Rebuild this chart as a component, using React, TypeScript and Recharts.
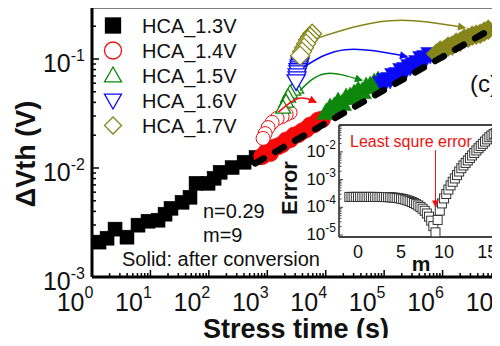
import React from "react";
import { ComposedChart, Scatter, Line, XAxis, YAxis, ReferenceLine, CartesianGrid } from "recharts";

const FONT = '"Liberation Sans", Arial, Helvetica, sans-serif';

const RED = "#f50a0a";
const GREEN = "#0d870d";
const BLUE = "#0a0af5";
const OLIVE = "#85851a";

// stress time t (s) vs dVth (V)
const hca13 = [
  { t: 1.32, v: 0.00209 }, { t: 1.81, v: 0.00227 }, { t: 2.48, v: 0.00275 }, { t: 3.97, v: 0.00232 },
  { t: 6.13, v: 0.00299 }, { t: 9.1, v: 0.00325 }, { t: 13.5, v: 0.00332 }, { t: 17.8, v: 0.00377 },
  { t: 22.5, v: 0.00427 }, { t: 34.8, v: 0.00485 }, { t: 47.6, v: 0.00539 }, { t: 60.4, v: 0.00724 },
  { t: 96.9, v: 0.00724 }, { t: 123, v: 0.00805 }, { t: 156, v: 0.00914 }, { t: 250, v: 0.0101 },
  { t: 401, v: 0.0113 }, { t: 643, v: 0.0125 },
];

// solid = after conversion
const hca14Solid = [
  { t: 815, v: 0.01279 }, { t: 953, v: 0.01393 }, { t: 1117, v: 0.01363 }, { t: 1307, v: 0.01545 },
  { t: 1531, v: 0.01579 }, { t: 1792, v: 0.01647 }, { t: 2098, v: 0.01792 }, { t: 2455, v: 0.0183 },
  { t: 2877, v: 0.01991 }, { t: 3366, v: 0.02033 }, { t: 3945, v: 0.02167 }, { t: 4615, v: 0.0226 },
  { t: 5405, v: 0.02458 }, { t: 6324, v: 0.0251 }, { t: 7413, v: 0.02731 }, { t: 8670, v: 0.02789 },
];
const hca15Solid = [
  { t: 10160, v: 0.03233 }, { t: 11890, v: 0.03592 }, { t: 13930, v: 0.03668 }, { t: 16300, v: 0.04076 },
  { t: 19100, v: 0.03908 }, { t: 22340, v: 0.04433 }, { t: 26170, v: 0.04529 }, { t: 30620, v: 0.04824 },
  { t: 35880, v: 0.05139 }, { t: 41980, v: 0.05031 }, { t: 49200, v: 0.05591 }, { t: 57540, v: 0.05709 },
  { t: 67450, v: 0.06082 }, { t: 78890, v: 0.06343 },
];
const hca16Solid = [
  { t: 92470, v: 0.05955 }, { t: 108200, v: 0.06343 }, { t: 126700, v: 0.06477 }, { t: 148300, v: 0.07047 },
  { t: 173800, v: 0.07198 }, { t: 203200, v: 0.07832 }, { t: 238200, v: 0.07998 }, { t: 278600, v: 0.08518 },
  { t: 326600, v: 0.08885 }, { t: 382000, v: 0.09267 }, { t: 447700, v: 0.1009 }, { t: 523600, v: 0.103 },
  { t: 613800, v: 0.1097 },
];
const hca17Solid = [
  { t: 776600, v: 0.112 }, { t: 909500, v: 0.1194 }, { t: 1065000, v: 0.1219 }, { t: 1247000, v: 0.1299 },
  { t: 1459000, v: 0.1327 }, { t: 1710000, v: 0.1413 }, { t: 2000000, v: 0.1443 }, { t: 2344000, v: 0.1537 },
  { t: 2742000, v: 0.157 }, { t: 3213000, v: 0.1637 }, { t: 3758000, v: 0.1672 }, { t: 4406000, v: 0.1708 },
  { t: 5152000, v: 0.1781 }, { t: 6039000, v: 0.1858 },
];

// hollow = before conversion
const hca14Open = [
  { t: 2455, v: 0.0323 }, { t: 2098, v: 0.031 }, { t: 1792, v: 0.0297 }, { t: 1472, v: 0.0285 },
  { t: 1209, v: 0.0262 }, { t: 1032, v: 0.0235 }, { t: 917, v: 0.0207 }, { t: 847, v: 0.0187 },
];
const hca15Open = [
  { t: 3112, v: 0.0547 }, { t: 2766, v: 0.0525 }, { t: 2455, v: 0.0493 }, { t: 2270, v: 0.0453 },
  { t: 2099, v: 0.0407 }, { t: 1866, v: 0.0359 },
];
const hca16Open = [
  { t: 3645, v: 0.0926 }, { t: 3645, v: 0.0888 }, { t: 3507, v: 0.0851 }, { t: 3507, v: 0.0817 },
  { t: 3365, v: 0.0784 }, { t: 3365, v: 0.0751 }, { t: 3236, v: 0.0705 }, { t: 3236, v: 0.0662 },
  { t: 3112, v: 0.0621 },
];
const hca17Open = [
  { t: 5847, v: 0.1707 }, { t: 5405, v: 0.1603 }, { t: 5000, v: 0.1503 }, { t: 4615, v: 0.1383 },
  { t: 4266, v: 0.1271 }, { t: 3945, v: 0.1169 }, { t: 3645, v: 0.1074 },
];

// power-law fit, n = 0.29
const fitLine = [{ t: 620, v: 0.01104 }, { t: 8600000, v: 0.202 }];

const redArrow = [{ t: 1531, v: 0.0324 }, { t: 3366, v: 0.0435 }, { t: 6850, v: 0.0399 }];
const greenArrow = [{ t: 3645, v: 0.0514 }, { t: 9770, v: 0.0734 }, { t: 42000, v: 0.0634 }];
const blueArrow = [{ t: 4104, v: 0.0834 }, { t: 21500, v: 0.1219 }, { t: 247700, v: 0.1052 }];
const oliveArrow = [{ t: 6850, v: 0.1538 }, { t: 126700, v: 0.2244 }, { t: 2440000, v: 0.1935 }];

// inset: least square error vs m
const errM = [
  -1, -0.75, -0.5, -0.25, 0, 0.25, 0.5, 0.75, 1, 1.25, 1.5, 1.75, 2, 2.25, 2.5, 2.75, 3, 3.25, 3.5, 3.75,
  4, 4.25, 4.5, 4.75, 5, 5.25, 5.5, 5.75, 6, 6.25, 6.5, 6.75, 7, 7.25, 7.5, 7.75, 8, 8.25, 8.5, 8.75, 9,
  9.25, 9.5, 9.75, 10, 10.25, 10.5, 10.75, 11, 11.25, 11.5, 11.75, 12, 12.25, 12.5, 12.75, 13, 13.25,
  13.5, 13.75, 14, 14.25, 14.5, 14.75, 15, 15.25, 15.5, 15.75, 16,
];
const errVal = [
  2.37e-4, 2.37e-4, 2.37e-4, 2.37e-4, 2.37e-4, 2.37e-4, 2.37e-4, 2.37e-4, 2.37e-4, 2.37e-4, 2.37e-4,
  2.37e-4, 2.36e-4, 2.36e-4, 2.36e-4, 2.35e-4, 2.35e-4, 2.34e-4, 2.33e-4, 2.3e-4, 2.27e-4, 2.23e-4,
  2.18e-4, 2.12e-4, 2.05e-4, 1.97e-4, 1.88e-4, 1.78e-4, 1.67e-4, 1.55e-4, 1.43e-4, 1.3e-4, 1.17e-4,
  1.03e-4, 8.9e-5, 7.5e-5, 6.0e-5, 4.6e-5, 3.3e-5, 2.1e-5, 1.25e-5, 3.5e-5, 7.6e-5, 1.38e-4, 2.09e-4,
  3.02e-4, 4.37e-4, 6.17e-4, 8.32e-4, 1.1e-3, 1.45e-3, 1.95e-3, 2.57e-3, 3.24e-3, 3.98e-3, 4.9e-3,
  6.03e-3, 7.41e-3, 9.12e-3, 1.12e-2, 1.35e-2, 1.62e-2, 1.95e-2, 2.34e-2, 2.82e-2, 3.39e-2, 3.89e-2,
  4.37e-2, 4.79e-2,
];
const errData = errM.map((m, i) => ({ m, e: errVal[i] }));
const lsqArrow = [{ m: 9, e: 0.0115 }, { m: 9, e: 1.05e-4 }];

const legendItems = [
  { label: "HCA_1.3V", kind: "square", color: "#000", filled: true },
  { label: "HCA_1.4V", kind: "circle", color: RED, filled: false },
  { label: "HCA_1.5V", kind: "triangle", color: GREEN, filled: false },
  { label: "HCA_1.6V", kind: "down", color: BLUE, filled: false },
  { label: "HCA_1.7V", kind: "diamond", color: OLIVE, filled: false },
];

const minorMult = [2, 3, 4, 5, 6, 7, 8, 9];
const xDecades = [1, 10, 100, 1e3, 1e4, 1e5, 1e6];
const xTicks = [...xDecades.flatMap((d) => [d, ...minorMult.map((k) => d * k)]), 1e7];
const yDecades = [1e-3, 1e-2, 1e-1];
const yTicks = yDecades.flatMap((d) => [d, ...minorMult.map((k) => d * k)]).filter((v) => v < 0.29);
const insetDecades = [1e-5, 1e-4, 1e-3, 1e-2];
const insetYTicks = insetDecades.flatMap((d) => [d, ...minorMult.map((k) => d * k)]);
const insetXTicks = [0, 5, 10, 15];

const isMajor = (v: number) => {
  const lg = Math.log10(v);
  return Math.abs(lg - Math.round(lg)) < 1e-6;
};

function Mark({ kind, cx, cy, size, fill, stroke, sw = 1.3 }: any) {
  const h = size / 2;
  if (kind === "circle") return <circle cx={cx} cy={cy} r={h} fill={fill} stroke={stroke} strokeWidth={sw} />;
  if (kind === "square")
    return <rect x={cx - h} y={cy - h} width={size} height={size} fill={fill} stroke={stroke} strokeWidth={sw} />;
  let d = "";
  if (kind === "triangle") d = `M${cx},${cy - h} L${cx + h},${cy + h * 0.75} L${cx - h},${cy + h * 0.75} Z`;
  if (kind === "down") d = `M${cx - h},${cy - h * 0.75} L${cx + h},${cy - h * 0.75} L${cx},${cy + h} Z`;
  if (kind === "diamond") d = `M${cx},${cy - h} L${cx + h},${cy} L${cx},${cy + h} L${cx - h},${cy} Z`;
  return <path d={d} fill={fill} stroke={stroke} strokeWidth={sw} strokeLinejoin="miter" />;
}

const shape = (kind: string, size: number, fill: string, stroke: string, sw?: number) => (p: any) =>
  <Mark kind={kind} cx={p.cx} cy={p.cy} size={size} fill={fill} stroke={stroke} sw={sw} />;

const XTick = ({ x, y, payload }: any) => {
  const v = payload.value;
  const major = isMajor(v);
  return (
    <g>
      <line x1={x} x2={x} y1={y} y2={y - (major ? 7 : 4)} stroke="#000" strokeWidth={1.5} />
      {major && (
        <text x={x - 17} y={y + 34} textAnchor="middle" fontSize={25} fontFamily={FONT} fill="#111">
          10<tspan dy={-13} fontSize={16}>{Math.round(Math.log10(v))}</tspan>
        </text>
      )}
    </g>
  );
};

const YTick = ({ x, y, payload }: any) => {
  const v = payload.value;
  const major = isMajor(v);
  return (
    <g>
      <line x1={x} x2={x + (major ? 7 : 4)} y1={y} y2={y} stroke="#000" strokeWidth={1.5} />
      {major && (
        <text x={x - 7} y={y + 13} textAnchor="end" fontSize={25} fontFamily={FONT} fill="#111">
          10<tspan dy={-11} fontSize={16}>{Math.round(Math.log10(v))}</tspan>
        </text>
      )}
    </g>
  );
};

const InsetYTick = ({ x, y, payload }: any) => {
  const v = payload.value;
  const major = isMajor(v);
  return (
    <g>
      <line x1={x} x2={x + (major ? 4 : 2.5)} y1={y} y2={y} stroke="#444" strokeWidth={1} />
      {major && (
        <text x={x - 3} y={y + 5} textAnchor="end" fontSize={17} fontFamily={FONT} fill="#111">
          10<tspan dy={-8} fontSize={12}>{Math.round(Math.log10(v))}</tspan>
        </text>
      )}
    </g>
  );
};

const InsetXTick = ({ x, y, payload }: any) => (
  <text x={x} y={y + 21} textAnchor="middle" fontSize={18} fontFamily={FONT} fill="#111">
    {payload.value}
  </text>
);

export default function App() {
  const layer: React.CSSProperties = { position: "absolute", left: 0, top: 0 };
  return (
    <div style={{ position: "relative", width: 500, height: 346, margin: -8, overflow: "hidden", background: "#fff" }}>
      <svg width={0} height={0} style={{ position: "absolute" }}>
        <defs>
          {[["red", RED], ["green", GREEN], ["blue", BLUE], ["olive", OLIVE], ["lsq", "#ee1111"]].map(([id, c]) => (
            <marker key={id} id={`ah-${id}`} viewBox="0 0 10 10" refX={9} refY={5} markerWidth={id === "lsq" ? 7 : 12}
              markerHeight={id === "lsq" ? 9 : 8} markerUnits="userSpaceOnUse" orient="auto">
              <path d="M0,0 L10,5 L0,10 Z" fill={c} />
            </marker>
          ))}
        </defs>
      </svg>

      <div style={layer}>
        <ComposedChart width={520} height={346} margin={{ top: 7, right: 19, bottom: 0, left: 0 }}>
          <XAxis dataKey="t" type="number" scale="log" domain={[1, 1e7]} allowDataOverflow ticks={xTicks}
            interval={0} tick={XTick} tickSize={0} tickMargin={0} tickLine={false}
            axisLine={{ stroke: "#000", strokeWidth: 3 }} height={69} />
          <YAxis dataKey="v" type="number" scale="log" domain={[0.001, 0.3]} allowDataOverflow ticks={yTicks}
            interval={0} tick={YTick} tickSize={0} tickMargin={0} tickLine={false}
            axisLine={{ stroke: "#000", strokeWidth: 3 }} width={92} />
          <ReferenceLine y={0.3} stroke="#000" strokeWidth={3} />
          <ReferenceLine x={1e7} stroke="#000" strokeWidth={3} />

          <Scatter data={hca13} shape={shape("square", 14, "#000", "#000", 0.5)} isAnimationActive={false} />
          <Scatter data={hca14Solid} shape={shape("circle", 17, RED, RED, 0.5)} isAnimationActive={false} />
          <Scatter data={hca15Solid} shape={shape("triangle", 19, GREEN, GREEN, 0.5)} isAnimationActive={false} />
          <Scatter data={hca16Solid} shape={shape("down", 19, BLUE, BLUE, 0.5)} isAnimationActive={false} />
          <Scatter data={hca17Solid} shape={shape("diamond", 20, OLIVE, OLIVE, 0.5)} isAnimationActive={false} />

          <Line data={fitLine} dataKey="v" type="linear" stroke="#000" strokeWidth={6.5} strokeDasharray="10 13"
            strokeLinecap="round" dot={false} activeDot={false} isAnimationActive={false} zIndex={650} />

          <Scatter data={hca14Open} shape={shape("circle", 14, "#fff", RED, 1)} isAnimationActive={false} />
          <Scatter data={hca15Open} shape={shape("triangle", 15, "#fff", GREEN, 1.3)} isAnimationActive={false} />
          <Scatter data={hca16Open} shape={shape("down", 18, "#fff", BLUE, 1.3)} isAnimationActive={false} />
          <Scatter data={hca17Open} shape={shape("diamond", 19, "#fff", OLIVE, 1.3)} isAnimationActive={false} />

          {[[redArrow, RED, "red"], [greenArrow, GREEN, "green"], [blueArrow, BLUE, "blue"], [oliveArrow, OLIVE, "olive"]].map(
            ([d, c, id]: any) => (
              <Line key={id} data={d} dataKey="v" type="natural" stroke={c} strokeWidth={1.5} dot={false}
                activeDot={false} markerEnd={`url(#ah-${id})`} isAnimationActive={false} zIndex={700} />
            )
          )}
        </ComposedChart>
      </div>

      <svg width={500} height={346} style={{ ...layer, pointerEvents: "none" }} fontFamily={FONT}>
        {legendItems.map((it, i) => (
          <g key={it.label}>
            <Mark kind={it.kind} cx={113} cy={25.5 + 25 * i} size={it.kind === "square" ? 15 : 17}
              fill={it.filled ? it.color : "#fff"} stroke={it.color} sw={1.3} />
            <text x={142} y={33 + 25 * i} fontSize={20} fill="#111">{it.label}</text>
          </g>
        ))}
        <text x={470} y={92} fontSize={24} fill="#111">(c)</text>
        <text x={203} y={218} fontSize={20} fill="#111">n=0.29</text>
        <text x={203} y={242} fontSize={20} fill="#111">m=9</text>
        <text x={122} y={266} fontSize={20} fill="#111">Solid: after conversion</text>
        <text x={296} y={338} textAnchor="middle" fontSize={27} fontWeight="bold" fill="#111">Stress time (s)</text>
        <text transform="translate(35,154) rotate(-90)" textAnchor="middle" fontSize={27} fontWeight="bold" fill="#111">
          ΔVth (V)
        </text>
        <text transform="translate(297,188) rotate(-90)" textAnchor="middle" fontSize={22} fontWeight="bold" fill="#111">
          Error
        </text>
        <text x={421} y={271} textAnchor="middle" fontSize={21} fontWeight="bold" fill="#111">m</text>
      </svg>

      <div style={layer}>
        <ComposedChart width={520} height={346} margin={{ top: 125, right: 7, bottom: 0, left: 0 }}>
          <CartesianGrid fill="#fff" fillOpacity={1} horizontal={false} vertical={false} />
          <XAxis dataKey="m" type="number" domain={[-2.2, 18]} allowDataOverflow ticks={insetXTicks} interval={0}
            tick={InsetXTick} tickSize={0} tickMargin={0} tickLine={false}
            axisLine={{ stroke: "#444", strokeWidth: 1.8 }} height={109} />
          <YAxis dataKey="e" type="number" scale="log" domain={[8.5e-6, 0.093]} allowDataOverflow ticks={insetYTicks}
            interval={0} tick={InsetYTick} tickSize={0} tickMargin={0} tickLine={false}
            axisLine={{ stroke: "#444", strokeWidth: 1.8 }} width={339} />
          <ReferenceLine y={0.093} stroke="#444" strokeWidth={1.8} />
          <Scatter data={errData} shape={shape("square", 9, "#fff", "#333", 1)} isAnimationActive={false} />
          <Line data={lsqArrow} dataKey="e" type="linear" stroke="#ee1111" strokeWidth={1} dot={false}
            activeDot={false} markerEnd="url(#ah-lsq)" isAnimationActive={false} zIndex={700} />
        </ComposedChart>
      </div>

      <svg width={500} height={346} style={{ ...layer, pointerEvents: "none" }} fontFamily={FONT}>
        <text x={350} y={147} fontSize={16} fill="#ee1111">Least squre error</text>
      </svg>
    </div>
  );
}
